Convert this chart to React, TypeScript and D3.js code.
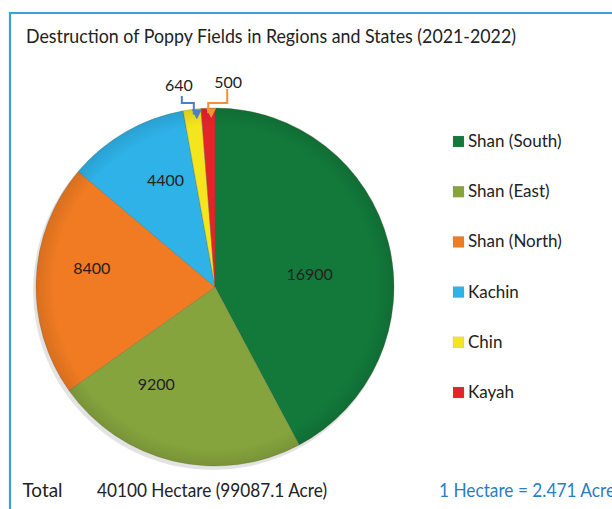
import React from "react";
import * as d3 from "d3";

const regions = ["Shan (South)", "Shan (East)", "Shan (North)", "Kachin", "Chin", "Kayah"];
const hectares = [16900, 9200, 8400, 4400, 640, 500];
const colors = ["#12793a", "#86a43e", "#f07b22", "#2eb2e8", "#f4e61d", "#e4242a"];
const titleText = "Destruction of Poppy Fields in Regions and States (2021-2022)";
const totalLabel = "Total";
const totalText = "40100 Hectare (99087.1 Acre)";
const conversionText = "1 Hectare = 2.471 Acre";

const W = 612;
const H = 509;
const cx = 215;
const cy = 287;
const R = 179;
const FONT = "Lato, 'Open Sans', sans-serif";

// label nudges for inside labels (radius factor, dx, dy)
const insideNudge = [
  { k: 0.62, dx: -13, dy: 16 },
  { k: 0.65, dx: -32, dy: -14 },
  { k: 0.7, dx: 2, dy: -12 },
  { k: 0.62, dx: 6, dy: -9 },
];

export default function App() {
  const pie = d3
    .pie<number>()
    .sort(null)
    .value((d) => d)
    .startAngle(0)
    .endAngle(2 * Math.PI);
  const arcs = pie(hectares);
  const arc = d3.arc<d3.PieArcDatum<number>>().innerRadius(0).outerRadius(R);

  const legendY = d3.scalePoint<string>().domain(regions).range([141.5, 392.5]);

  const edge = (a: d3.PieArcDatum<number>, r: number) => {
    const m = (a.startAngle + a.endAngle) / 2;
    return [cx + r * Math.sin(m), cy - r * Math.cos(m)];
  };
  const chin = arcs[4];
  const kayah = arcs[5];
  const [chinX, chinY] = edge(chin, R - 6);
  const [kayX, kayY] = edge(kayah, R - 6);

  return (
    <svg width={W} height={H} style={{ display: "block", position: "absolute", left: 0, top: 0 }}>
      <defs>
        <marker id="ab" viewBox="0 0 10 10" refX="5" refY="8" markerWidth="5" markerHeight="5" orient="auto-start-reverse">
          <path d="M0,0 L10,5 L0,10 z" fill="#4d7fc2" />
        </marker>
        <marker id="ao" viewBox="0 0 10 10" refX="5" refY="8" markerWidth="5" markerHeight="5" orient="auto-start-reverse">
          <path d="M0,0 L10,5 L0,10 z" fill="#f19236" />
        </marker>
        <radialGradient id="shade" cx="50%" cy="50%" r="50%">
          <stop offset="90%" stopColor="#000" stopOpacity="0" />
          <stop offset="100%" stopColor="#000" stopOpacity="0.1" />
        </radialGradient>
      </defs>
      <rect x={0} y={0} width={W} height={H} fill="#fff" />
      {/* frame */}
      <path d={`M10,${H} L10,13 L${W},13`} fill="none" stroke="#3aa0dc" strokeWidth={2.2} />
      <text x={26} y={42.5} fontFamily={FONT} fontSize={18.5} fill="#222" textLength={490} lengthAdjust="spacingAndGlyphs">
        {titleText}
      </text>

      {/* pie */}
      <g transform={`translate(${cx},${cy})`}>
        <circle cx={-2} cy={3} r={R + 1} fill="#c8c8c8" opacity={0.5} />
        {arcs.map((a, i) => (
          <path key={i} d={arc(a) || ""} fill={colors[i]} stroke="#5b5b3a" strokeOpacity={0.35} strokeWidth={0.8} />
        ))}
        <circle r={R} fill="url(#shade)" />
        {arcs.slice(0, 4).map((a, i) => {
          const m = (a.startAngle + a.endAngle) / 2;
          const n = insideNudge[i];
          const x = n.k * R * Math.sin(m) + n.dx;
          const y = -n.k * R * Math.cos(m) + n.dy;
          return (
            <text key={i} x={x} y={y} textAnchor="middle" dominantBaseline="middle" fontFamily={FONT} fontSize={16} fill="#222">
              {hectares[i]}
            </text>
          );
        })}
      </g>

      {/* small-slice labels */}
      <text x={chinX - 14} y={91} textAnchor="middle" fontFamily={FONT} fontSize={16} fill="#222">
        {hectares[4]}
      </text>
      <text x={kayX + 20} y={88} textAnchor="middle" fontFamily={FONT} fontSize={16} fill="#222">
        {hectares[5]}
      </text>
      <path
        d={`M${chinX - 11},96 L${chinX - 11},103 L${chinX + 1},103 L${chinX + 1},${chinY - 1}`}
        fill="none"
        stroke="#4d7fc2"
        strokeWidth={2}
        markerEnd="url(#ab)"
      />
      <path
        d={`M${kayX + 19},89 L${kayX + 19},103 L${kayX},103 L${kayX},${kayY - 1}`}
        fill="none"
        stroke="#f19236"
        strokeWidth={2}
        markerEnd="url(#ao)"
      />

      {/* legend */}
      {regions.map((r, i) => {
        const y = legendY(r) as number;
        return (
          <g key={r}>
            <rect x={453} y={y - 5.5} width={11} height={11} fill={colors[i]} stroke="#888" strokeOpacity={0.3} strokeWidth={0.5} />
            <text x={468} y={y + 5.5} fontFamily={FONT} fontSize={17} fill="#222">
              {r}
            </text>
          </g>
        );
      })}

      {/* footer */}
      <text x={22.5} y={496.5} fontFamily={FONT} fontSize={19} fill="#222" textLength={40} lengthAdjust="spacingAndGlyphs">
        {totalLabel}
      </text>
      <text x={97} y={496.5} fontFamily={FONT} fontSize={19} fill="#222" textLength={230} lengthAdjust="spacingAndGlyphs">
        {totalText}
      </text>
      <text x={439} y={496.5} fontFamily={FONT} fontSize={19} fill="#2a7cc6" textLength={176} lengthAdjust="spacingAndGlyphs">
        {conversionText}
      </text>
    </svg>
  );
}
